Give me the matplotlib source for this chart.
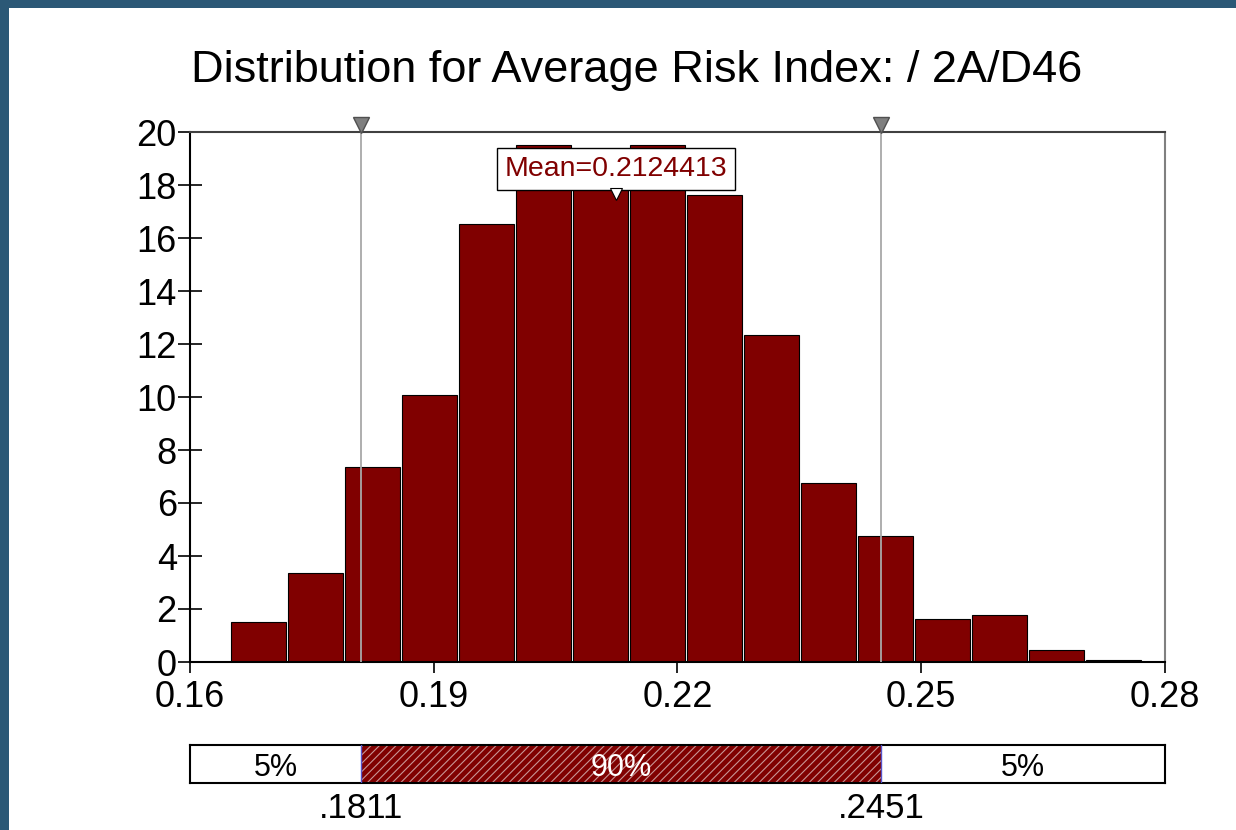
import numpy as np
import matplotlib
matplotlib.use("Agg")
import matplotlib.pyplot as plt
from matplotlib.patches import Rectangle

plt.rcParams['font.family'] = ['Liberation Sans', 'DejaVu Sans']
plt.rcParams['hatch.linewidth'] = 0.8

# ---- data ----
title = "Distribution for Average Risk Index: / 2A/D46"
bin_start = 0.16505
bin_width = 0.007016
densities = [1.51, 3.36, 7.37, 10.06, 16.52, 19.51, 18.6, 19.51,
             17.62, 12.33, 6.77, 4.76, 1.63, 1.78, 0.45, 0.08]
mean_value = 0.2124413
p5 = 0.1811
p95 = 0.2451
pct_labels = ["5%", "90%", "5%"]
pct_values_text = [".1811", ".2451"]
xticks = [0.16, 0.19, 0.22, 0.25, 0.28]
yticks = list(range(0, 21, 2))
xlim = (0.16, 0.28)
ylim = (0, 20)

W, H = 1236, 830
fig = plt.figure(figsize=(W / 100, H / 100), dpi=100, facecolor='#2b5876')
fig.patches.append(Rectangle((9 / W, 0), 1 - 9 / W, 1 - 8 / H, transform=fig.transFigure,
                             facecolor='white', edgecolor='none', zorder=-10))


def fx(px):
    return px / W


def fy(py):
    return 1 - py / H


# ---- main histogram ----
ax = fig.add_axes([fx(190), fy(662), (1165 - 190) / W, (662 - 132) / H], zorder=2)
ax.set_facecolor('white')
edges = bin_start + bin_width * np.arange(len(densities))
ax.bar(edges, densities, width=bin_width * 0.965, align='edge', color='#800000',
       edgecolor='black', linewidth=0.8, zorder=2)
ax.set_xlim(*xlim)
ax.set_ylim(*ylim)

for v in (p5, p95):
    ax.axvline(v, color='#a8a8a8', lw=1.3, zorder=3)
ax.plot([p5, p95], [1.0125, 1.0125], marker='v', ms=11.5, color='#7f7f7f', mec='#505050',
        ls='none', transform=ax.get_xaxis_transform(), clip_on=False, zorder=5)

ax.text(mean_value, 0.930, f"Mean={mean_value:.7f}", transform=ax.get_xaxis_transform(),
        ha='center', va='center', fontsize=20.5, color='#800000',
        bbox=dict(boxstyle='square,pad=0.28', fc='white', ec='black', lw=1), zorder=6)
ax.plot([mean_value], [0.883], marker='v', ms=8, mfc='white', mec='black', mew=0.8,
        ls='none', transform=ax.get_xaxis_transform(), clip_on=False, zorder=7)

ax.set_xticks(xticks)
ax.set_xticklabels([f"{v:.2f}" for v in xticks])
ax.set_yticks(yticks)
ax.set_yticklabels([str(v) for v in yticks])
ax.tick_params(axis='x', direction='out', length=8, width=1.2, labelsize=26, pad=5)
ax.tick_params(axis='y', direction='inout', length=17, width=1.2, labelsize=26, pad=1)
ax.spines['left'].set_color('black')
ax.spines['bottom'].set_color('black')
ax.spines['top'].set_color('#404040')
ax.spines['right'].set_color('#808080')
for s in ax.spines.values():
    s.set_linewidth(1.5)

# ---- percentile bar ----
ax2 = fig.add_axes([fx(190), fy(783), (1165 - 190) / W, (783 - 745) / H], zorder=2)
ax2.set_xlim(*xlim)
ax2.set_ylim(0, 1)
ax2.set_xticks([])
ax2.set_yticks([])
for s in ax2.spines.values():
    s.set_linewidth(1.5)
    s.set_color('black')
ax2.add_patch(Rectangle((p5, 0), p95 - p5, 1, fc='#800000', ec='none', zorder=1))
ax2.add_patch(Rectangle((p5, 0), p95 - p5, 1, fc='none', ec='#c89595', hatch='////',
                        lw=0, zorder=2))
for v in (p5, p95):
    ax2.axvline(v, color='#5555cc', lw=1.0, zorder=3)
centers = [(xlim[0] + p5) / 2, (p5 + p95) / 2, (p95 + xlim[1]) / 2]
colors = ['black', 'white', 'black']
for c, lab, col in zip(centers, pct_labels, colors):
    ax2.text(c, 0.40, lab, ha='center', va='center', fontsize=22, color=col, zorder=4)
for v, lab in zip((p5, p95), pct_values_text):
    ax2.text(v, -0.66, lab, ha='center', va='center', fontsize=25, clip_on=False)

fig.text(fx(637), fy(82), title, ha='center', va='baseline', fontsize=32.5)

fig.savefig("out.png", dpi=100, facecolor=fig.get_facecolor())
